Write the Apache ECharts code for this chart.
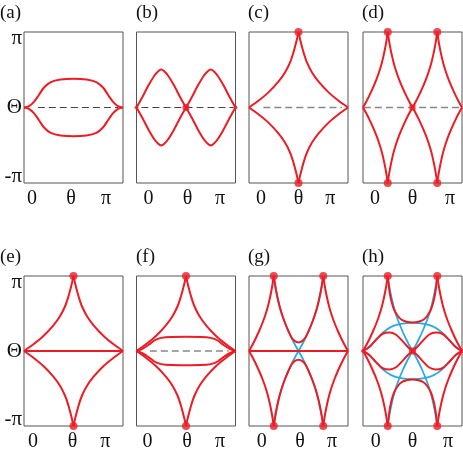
<!DOCTYPE html>
<html><head><meta charset="utf-8">
<script src="https://cdn.jsdelivr.net/npm/echarts@6/dist/echarts.min.js"></script>
<style>html,body{margin:0;padding:0;background:#fff}#c{width:463px;height:460px}</style>
</head><body><div id="c"></div>
<script>
// ---------- labels ----------
const panelLetters = ['(a)','(b)','(c)','(d)','(e)','(f)','(g)','(h)'];
const xTickLabels = ['0','θ','π'];
const xTickPos = [[0.08,0.475,0.83],[0.12,0.515,0.845],[0.12,0.5,0.82],[0.12,0.5,0.88],
                  [0.09,0.49,0.82],[0.11,0.51,0.845],[0.13,0.515,0.84],[0.13,0.5,0.86]];
const yTickLabels = ['-π','Θ','π'];
const yTickPos = [-0.91, 0, 0.91];

// ---------- (a) ----------
const aUpper = [[0,0],[0.05,0.018],[0.1,0.075],[0.15,0.165],[0.2,0.262],[0.27,0.337],[0.37,0.372],[0.5,0.382],[0.63,0.372],[0.73,0.337],[0.8,0.262],[0.85,0.165],[0.9,0.075],[0.95,0.018],[1,0]];
const aLower = [[0,0],[0.05,-0.018],[0.1,-0.075],[0.15,-0.165],[0.2,-0.262],[0.27,-0.337],[0.37,-0.372],[0.5,-0.382],[0.63,-0.372],[0.73,-0.337],[0.8,-0.262],[0.85,-0.165],[0.9,-0.075],[0.95,-0.018],[1,0]];
const aDash = [[0.14,0],[0.95,0]];

// ---------- (b) ----------
const bRise = [[0,0],[0.06,0.14],[0.12,0.29],[0.18,0.42],[0.22,0.48],[0.25,0.502],[0.28,0.48],[0.32,0.42],[0.38,0.29],[0.44,0.14],[0.5,0],[0.56,-0.14],[0.62,-0.29],[0.68,-0.42],[0.72,-0.48],[0.75,-0.502],[0.78,-0.48],[0.82,-0.42],[0.88,-0.29],[0.94,-0.14],[1,0]];
const bFall = [[0,0],[0.06,-0.14],[0.12,-0.29],[0.18,-0.42],[0.22,-0.48],[0.25,-0.502],[0.28,-0.48],[0.32,-0.42],[0.38,-0.29],[0.44,-0.14],[0.5,0],[0.56,0.14],[0.62,0.29],[0.68,0.42],[0.72,0.48],[0.75,0.502],[0.78,0.48],[0.82,0.42],[0.88,0.29],[0.94,0.14],[1,0]];
const bDash = [[0.05,0],[0.98,0]];
const bNode = [[0.5,0]];
const bEnds = [[0,0],[1,0]];

// ---------- wide cusp arcs (c, e, f) ----------
const cArcUL = [[0,0],[0.095,0.089],[0.196,0.2],[0.297,0.342],[0.365,0.467],[0.416,0.6],[0.447,0.72],[0.47,0.83],[0.487,0.92],[0.5,1]];
const cArcUR = [[0.5,1],[0.513,0.92],[0.53,0.83],[0.553,0.72],[0.584,0.6],[0.635,0.467],[0.703,0.342],[0.804,0.2],[0.905,0.089],[1,0]];
const cArcLL = [[0,0],[0.095,-0.089],[0.196,-0.2],[0.297,-0.342],[0.365,-0.467],[0.416,-0.6],[0.447,-0.72],[0.47,-0.83],[0.487,-0.92],[0.5,-1]];
const cArcLR = [[0.5,-1],[0.513,-0.92],[0.53,-0.83],[0.553,-0.72],[0.584,-0.6],[0.635,-0.467],[0.703,-0.342],[0.804,-0.2],[0.905,-0.089],[1,0]];
const cDash = [[0.145,0],[0.94,0]];
const cDots = [[0.5,1],[0.5,-1]];

// ---------- narrow cusp arcs (d, g, h) ----------
const dArc1 = [[0,0],[0.03,0.07],[0.065,0.16],[0.1,0.26],[0.135,0.37],[0.165,0.48],[0.19,0.59],[0.21,0.7],[0.227,0.81],[0.24,0.91],[0.25,1]];
const dArc2 = [[0.25,1],[0.26,0.91],[0.273,0.81],[0.29,0.7],[0.31,0.59],[0.335,0.48],[0.365,0.37],[0.4,0.26],[0.435,0.16],[0.47,0.07],[0.5,0]];
const dArc3 = [[0.5,0],[0.53,0.07],[0.565,0.16],[0.6,0.26],[0.635,0.37],[0.665,0.48],[0.69,0.59],[0.71,0.7],[0.727,0.81],[0.74,0.91],[0.75,1]];
const dArc4 = [[0.75,1],[0.76,0.91],[0.773,0.81],[0.79,0.7],[0.81,0.59],[0.835,0.48],[0.865,0.37],[0.9,0.26],[0.935,0.16],[0.97,0.07],[1,0]];
const dArc5 = [[0,0],[0.03,-0.07],[0.065,-0.16],[0.1,-0.26],[0.135,-0.37],[0.165,-0.48],[0.19,-0.59],[0.21,-0.7],[0.227,-0.81],[0.24,-0.91],[0.25,-1]];
const dArc6 = [[0.25,-1],[0.26,-0.91],[0.273,-0.81],[0.29,-0.7],[0.31,-0.59],[0.335,-0.48],[0.365,-0.37],[0.4,-0.26],[0.435,-0.16],[0.47,-0.07],[0.5,0]];
const dArc7 = [[0.5,0],[0.53,-0.07],[0.565,-0.16],[0.6,-0.26],[0.635,-0.37],[0.665,-0.48],[0.69,-0.59],[0.71,-0.7],[0.727,-0.81],[0.74,-0.91],[0.75,-1]];
const dArc8 = [[0.75,-1],[0.76,-0.91],[0.773,-0.81],[0.79,-0.7],[0.81,-0.59],[0.835,-0.48],[0.865,-0.37],[0.9,-0.26],[0.935,-0.16],[0.97,-0.07],[1,0]];
const dDash = [[0.01,0],[1,0]];
const dDots = [[0.25,1],[0.75,1],[0.25,-1],[0.75,-1]];
const dNode = [[0.5,0]];

// ---------- (e) ----------
const eLine = [[0,0],[1,0]];

// ---------- (f) ----------
const fUpper = [[0,0],[0.06,0.03],[0.12,0.08],[0.18,0.14],[0.25,0.175],[0.35,0.188],[0.5,0.19],[0.65,0.188],[0.75,0.175],[0.82,0.14],[0.88,0.08],[0.94,0.03],[1,0]];
const fLower = [[0,0],[0.06,-0.03],[0.12,-0.08],[0.18,-0.14],[0.25,-0.175],[0.35,-0.188],[0.5,-0.19],[0.65,-0.188],[0.75,-0.175],[0.82,-0.14],[0.88,-0.08],[0.94,-0.03],[1,0]];
const fDash = [[0.135,0],[0.93,0]];

// ---------- (g) ----------
const gUTop = [[0.25,1],[0.26,0.91],[0.273,0.81],[0.29,0.7],[0.31,0.59],[0.335,0.48],[0.365,0.37],[0.4,0.26],[0.43,0.18],[0.46,0.135],[0.5,0.115],[0.54,0.135],[0.57,0.18],[0.6,0.26],[0.635,0.37],[0.665,0.48],[0.69,0.59],[0.71,0.7],[0.727,0.81],[0.74,0.91],[0.75,1]];
const gUBot = [[0.25,-1],[0.26,-0.91],[0.273,-0.81],[0.29,-0.7],[0.31,-0.59],[0.335,-0.48],[0.365,-0.37],[0.4,-0.26],[0.43,-0.18],[0.46,-0.135],[0.5,-0.115],[0.54,-0.135],[0.57,-0.18],[0.6,-0.26],[0.635,-0.37],[0.665,-0.48],[0.69,-0.59],[0.71,-0.7],[0.727,-0.81],[0.74,-0.91],[0.75,-1]];
const gLine = [[0,0],[1,0]];

// ---------- (h) ----------
const hUTop = [[0.25,1],[0.26,0.87],[0.272,0.76],[0.29,0.65],[0.315,0.55],[0.345,0.48],[0.385,0.42],[0.44,0.39],[0.5,0.38],[0.56,0.39],[0.615,0.42],[0.655,0.48],[0.685,0.55],[0.71,0.65],[0.728,0.76],[0.74,0.87],[0.75,1]];
const hUBot = [[0.25,-1],[0.26,-0.87],[0.272,-0.76],[0.29,-0.65],[0.315,-0.55],[0.345,-0.48],[0.385,-0.42],[0.44,-0.39],[0.5,-0.38],[0.56,-0.39],[0.615,-0.42],[0.655,-0.48],[0.685,-0.55],[0.71,-0.65],[0.728,-0.76],[0.74,-0.87],[0.75,-1]];
const hWaveA = [[0,0],[0.064,0.053],[0.132,0.15],[0.199,0.23],[0.267,0.248],[0.334,0.217],[0.402,0.128],[0.453,0.053],[0.5,0],[0.547,-0.053],[0.598,-0.128],[0.666,-0.217],[0.733,-0.248],[0.801,-0.23],[0.868,-0.15],[0.936,-0.053],[1,0]];
const hWaveB = [[0,0],[0.064,-0.053],[0.132,-0.15],[0.199,-0.23],[0.267,-0.248],[0.334,-0.217],[0.402,-0.128],[0.453,-0.053],[0.5,0],[0.547,0.053],[0.598,0.128],[0.666,0.217],[0.733,0.248],[0.801,0.23],[0.868,0.15],[0.936,0.053],[1,0]];
const hBlueUp = [[0,0],[0.064,0.053],[0.132,0.15],[0.2,0.245],[0.284,0.322],[0.38,0.362],[0.5,0.375],[0.62,0.362],[0.716,0.322],[0.8,0.245],[0.868,0.15],[0.936,0.053],[1,0]];
const hBlueDn = [[0,0],[0.064,-0.053],[0.132,-0.15],[0.2,-0.245],[0.284,-0.322],[0.38,-0.362],[0.5,-0.375],[0.62,-0.362],[0.716,-0.322],[0.8,-0.245],[0.868,-0.15],[0.936,-0.053],[1,0]];
const hEnds = [[0,0],[1,0]];

// ---------- build ----------
const RED = '#ed1c24', BLUE = '#29abe2', FONT = "'Liberation Serif', 'Times New Roman', serif";
const lefts = [24, 136.5, 249, 363], tops = [32, 276], heights = [151, 150];
const titleLefts = [0, 136, 248, 362], titleTops = [4, 248];
const grids = [], xAxes = [], yAxes = [], titles = [], series = [];

function curve(i, data, color, width, dashed) {
  series.push({type:'line', xAxisIndex:i, yAxisIndex:i, data:data, smooth:0.3, symbol:'none',
    clip:false, silent:true, z: color === BLUE ? 2 : (dashed ? 1 : 3),
    lineStyle:{color:color, width:width, type: dashed ? [7,4] : 'solid'}});
}
function marks(i, data, symbol, size) {
  series.push({type:'scatter', xAxisIndex:i, yAxisIndex:i, data:data, symbol:symbol, symbolSize:size,
    clip:false, silent:true, z:5, itemStyle:{color:RED}});
}

for (let i = 0; i < 8; i++) {
  const col = i % 4, row = Math.floor(i / 4);
  grids.push({left:lefts[col], top:tops[row], width:99, height:heights[row], show:true,
    borderColor:'#555', borderWidth:1, backgroundColor:'transparent'});
  const xp = xTickPos[i];
  xAxes.push({gridIndex:i, type:'value', min:0, max:1, axisLine:{show:false}, axisTick:{show:false},
    splitLine:{show:false},
    axisLabel:{customValues:xp, formatter:(v) => xTickLabels[xp.indexOf(v)], margin:6,
      color:'#111', fontFamily:FONT, fontSize:20}});
  yAxes.push({gridIndex:i, type:'value', min:-1, max:1, axisLine:{show:false}, axisTick:{show:false},
    splitLine:{show:false},
    axisLabel: col === 0 ? {customValues:yTickPos, formatter:(v) => yTickLabels[yTickPos.indexOf(v)],
      margin:2, color:'#111', fontFamily:FONT, fontSize:21} : {show:false}});
  titles.push({text:panelLetters[i], left:titleLefts[col], top:titleTops[row], padding:0,
    textStyle:{fontFamily:FONT, fontSize:19, fontWeight:'normal', color:'#111'}});
}

// (a)
curve(0, aDash, '#444', 1.2, true);
curve(0, aUpper, RED, 2); curve(0, aLower, RED, 2);
// (b)
curve(1, bDash, '#444', 1.2, true);
curve(1, bRise, RED, 2); curve(1, bFall, RED, 2);
marks(1, bNode, 'circle', 7); marks(1, bEnds, 'circle', 4);
// (c)
curve(2, cDash, '#888', 1.3, true);
[cArcUL, cArcUR, cArcLL, cArcLR].forEach(a => curve(2, a, RED, 2));
marks(2, cDots, 'circle', 8);
// (d)
curve(3, dDash, '#888', 1.3, true);
[dArc1, dArc2, dArc3, dArc4, dArc5, dArc6, dArc7, dArc8].forEach(a => curve(3, a, RED, 2));
marks(3, dDots, 'circle', 8); marks(3, dNode, 'rect', 6);
// (e)
[cArcUL, cArcUR, cArcLL, cArcLR].forEach(a => curve(4, a, RED, 2));
curve(4, eLine, RED, 2);
marks(4, cDots, 'circle', 8);
// (f)
curve(5, fDash, '#888', 1.3, true);
[cArcUL, cArcUR, cArcLL, cArcLR].forEach(a => curve(5, a, RED, 2));
curve(5, fUpper, RED, 2); curve(5, fLower, RED, 2);
marks(5, cDots, 'circle', 8);
// (g)
[dArc2, dArc3, dArc6, dArc7].forEach(a => curve(6, a, BLUE, 1.8));
[dArc1, dArc4, dArc5, dArc8].forEach(a => curve(6, a, RED, 2));
curve(6, gUTop, RED, 2); curve(6, gUBot, RED, 2); curve(6, gLine, RED, 2);
marks(6, dDots, 'circle', 8);
// (h)
[dArc2, dArc3, dArc6, dArc7].forEach(a => curve(7, a, BLUE, 1.8));
curve(7, hBlueUp, BLUE, 1.8); curve(7, hBlueDn, BLUE, 1.8);
[dArc1, dArc4, dArc5, dArc8].forEach(a => curve(7, a, RED, 2));
curve(7, hUTop, RED, 2); curve(7, hUBot, RED, 2);
curve(7, hWaveA, RED, 2); curve(7, hWaveB, RED, 2);
marks(7, dDots, 'circle', 8); marks(7, dNode, 'rect', 7); marks(7, hEnds, 'circle', 4);

const chart = echarts.init(document.getElementById('c'), null, {renderer:'canvas'});
chart.setOption({animation:false, backgroundColor:'#fff', title:titles, grid:grids,
  xAxis:xAxes, yAxis:yAxes, series:series});
</script></body></html>
